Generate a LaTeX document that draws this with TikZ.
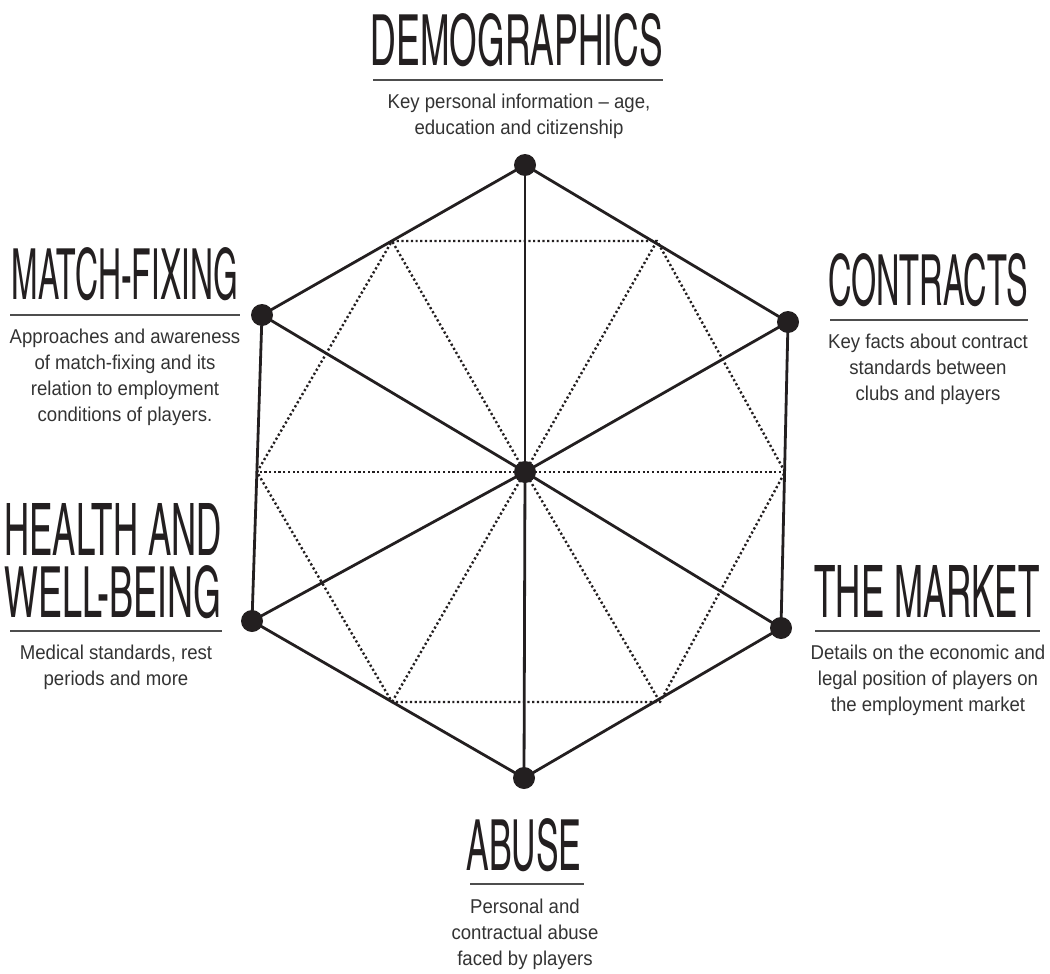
\documentclass[tikz,border=0pt]{standalone}
\usepackage{fontspec}
\usepackage{graphicx}
\setmainfont{Liberation Sans}
\newfontfamily\ttlfont{texgyreheroscn-regular.otf}
\newfontfamily\bodyfont[FakeStretch=0.93]{Liberation Sans}
\usetikzlibrary{calc}
\definecolor{ink}{HTML}{231F20}
\definecolor{bodyc}{HTML}{333333}
\definecolor{rulec}{HTML}{4D4D4D}
\newcommand{\ttlbox}[2]{\resizebox{#1}{52pt}{#2}}
\begin{document}
\begin{tikzpicture}[x=1pt,y=-1pt,
  rim/.style={draw=ink,line width=2.8pt,line join=round},
  dotline/.style={draw=ink,line width=2.4pt,dash pattern=on 2.2pt off 2.5pt},
  vertex/.style={circle,fill=ink,inner sep=0pt,minimum size=22pt},
  ttl/.style={font=\ttlfont\fontsize{74}{62}\selectfont,text=ink,inner sep=0pt,align=center},
  body/.style={font=\bodyfont\fontsize{20}{26}\selectfont,text=bodyc,inner sep=0pt,align=center},
  hrule/.style={draw=rulec,line width=1.3pt}]
\useasboundingbox (0,0) rectangle (1050,974);

% outer vertices
\coordinate (T) at (525,165);
\coordinate (UR) at (788,322);
\coordinate (LR) at (781,628);
\coordinate (B) at (524,778);
\coordinate (LL) at (252,621);
\coordinate (UL) at (262,315);
\coordinate (C) at (525,472);

% inner dotted hexagon
\coordinate (d1) at (392,241);
\coordinate (d2) at (657,241);
\coordinate (d3) at (785,472);
\coordinate (d4) at (660,702);
\coordinate (d5) at (392,702);
\coordinate (d6) at (257,472);

\draw[dotline] (d1)--(d2)--(d3)--(d4)--(d5)--(d6)--cycle;
\foreach \p in {d1,d2,d3,d4,d5,d6} \draw[dotline] (C)--(\p);

\draw[rim] (T)--(UR)--(LR)--(B)--(LL)--(UL)--cycle;
\foreach \p in {T,UR,LR,B,LL,UL} \draw[rim] (C)--(\p);

\foreach \p in {T,UR,LR,B,LL,UL,C} \node[vertex] (\p dot) at (\p) {};

% DEMOGRAPHICS
\node[ttl,anchor=base] (demt) at (517,66) {\ttlbox{292pt}{DEMOGRAPHICS}};
\coordinate (demr1) at (373,80); \coordinate (demr2) at (663,80);
\draw[hrule] (demr1)--(demr2);
\node[body,anchor=base] (demb) at (519,134) {Key personal information – age,\\education and citizenship};

% MATCH-FIXING
\node[ttl,anchor=base] (matt) at (125,299) {\ttlbox{226pt}{MATCH-FIXING}};
\coordinate (matr1) at (10,315); \coordinate (matr2) at (240,315);
\draw[hrule] (matr1)--(matr2);
\node[body,anchor=base] (matb) at (125,421) {Approaches and awareness\\of match-fixing and its\\relation to employment\\conditions of players.};

% CONTRACTS
\node[ttl,anchor=base] (cont) at (928,305) {\ttlbox{200pt}{CONTRACTS}};
\coordinate (conr1) at (830,320); \coordinate (conr2) at (1028,320);
\draw[hrule] (conr1)--(conr2);
\node[body,anchor=base] (conb) at (928,400) {Key facts about contract\\standards between\\clubs and players};

% HEALTH AND WELL-BEING
\node[ttl,anchor=base] (heat) at (113,617) {\ttlbox{217pt}{HEALTH AND}\\\ttlbox{217pt}{WELL-BEING}};
\coordinate (hear1) at (10,631); \coordinate (hear2) at (222,631);
\draw[hrule] (hear1)--(hear2);
\node[body,anchor=base] (heab) at (116,685) {Medical standards, rest\\periods and more};

% THE MARKET
\node[ttl,anchor=base] (mkt) at (927,617) {\ttlbox{225pt}{THE MARKET}};
\coordinate (mkr1) at (815,631); \coordinate (mkr2) at (1040,631);
\draw[hrule] (mkr1)--(mkr2);
\node[body,anchor=base] (mkb) at (928,711) {Details on the economic and\\legal position of players on\\the employment market};

% ABUSE
\node[ttl,anchor=base] (abt) at (524,870) {\ttlbox{115pt}{ABUSE}};
\coordinate (abr1) at (470,884); \coordinate (abr2) at (584,884);
\draw[hrule] (abr1)--(abr2);
\node[body,anchor=base] (abb) at (525,965) {Personal and\\contractual abuse\\faced by players};
\end{tikzpicture}
\end{document}
